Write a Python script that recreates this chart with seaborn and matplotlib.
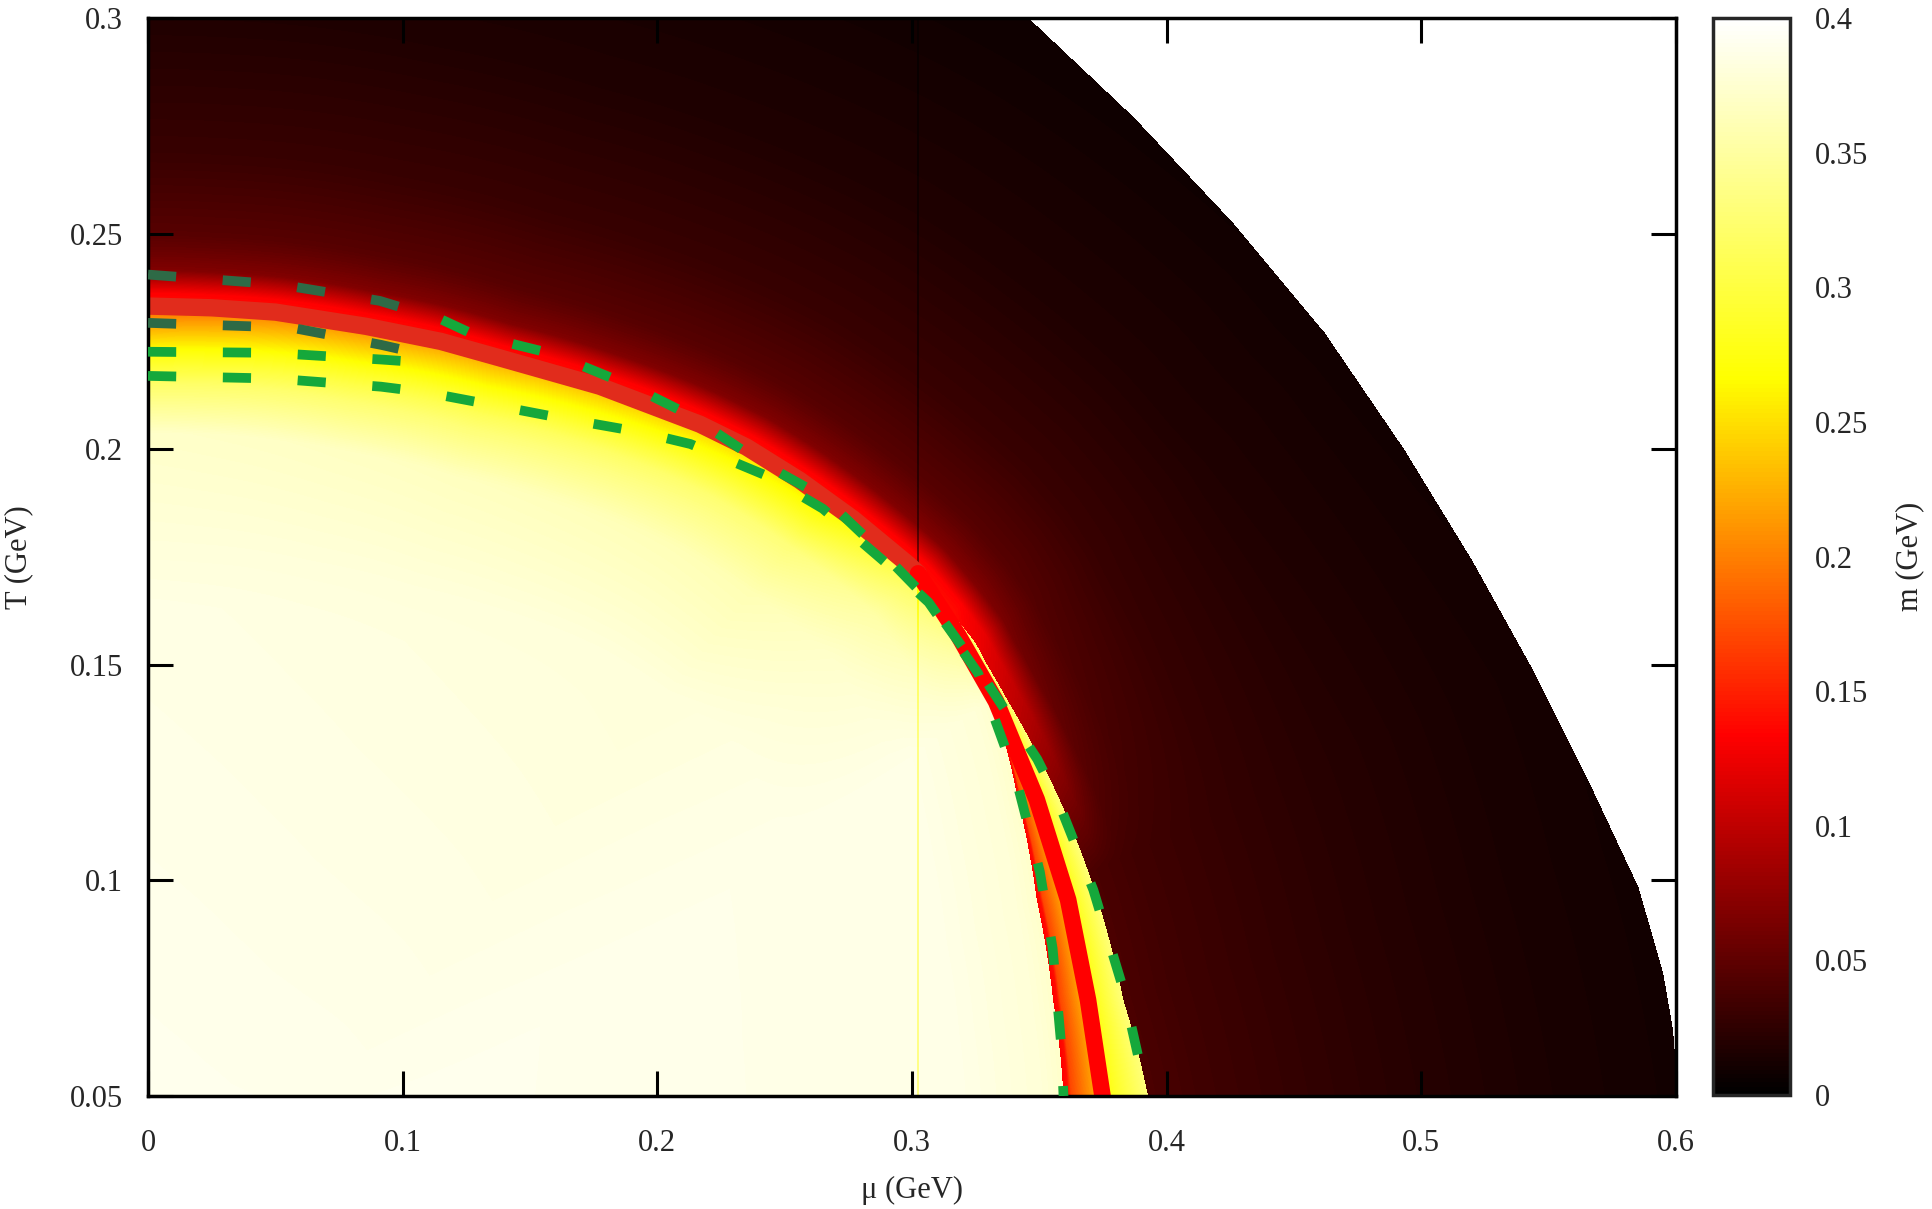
import numpy as np
import matplotlib
matplotlib.use("Agg")
import matplotlib.pyplot as plt
import seaborn as sns
from matplotlib.colors import LinearSegmentedColormap

# ---- values (mu and T in GeV) ----

# crossover line (centre of the thick red band)
cross_mu = [0.0, 0.025, 0.05, 0.0856, 0.115, 0.138, 0.1774, 0.2167, 0.235, 0.2559, 0.277, 0.2985, 0.3024]
cross_T = [0.2332, 0.2328, 0.2318, 0.2285, 0.2250, 0.2212, 0.2146, 0.2058, 0.2005, 0.1928, 0.1838, 0.1733, 0.1712]

# first-order line
first_mu = [0.3024, 0.318, 0.333, 0.349, 0.3613, 0.3691, 0.3748]
first_T = [0.1712, 0.157, 0.1415, 0.1187, 0.0955, 0.0723, 0.05]

# edges of the metastable band below the end point
inner_mu = [0.329, 0.3318, 0.3416, 0.349, 0.3554, 0.3595]
inner_T = [0.147, 0.1418, 0.1187, 0.0955, 0.0723, 0.05]
outer_mu = [0.325, 0.3295, 0.3375, 0.358, 0.373, 0.3830, 0.3927]
outer_T = [0.155, 0.150, 0.1418, 0.1187, 0.0955, 0.0723, 0.05]

# edge of the computed region (white beyond it)
edge_T = [0.05, 0.0654, 0.0783, 0.0983, 0.1227, 0.1484, 0.1741, 0.1999, 0.2271, 0.2528, 0.2771, 0.3]
edge_mu = [0.601, 0.599, 0.5952, 0.5855, 0.5661, 0.5444, 0.5202, 0.4935, 0.4621, 0.4258, 0.3871, 0.346]

# thin seam in the computed map
seam_mu = 0.3024

# m (GeV) across the transition vs distance from it (px)
in_d_top = [0, 9, 44, 77, 127, 300, 1000]
in_m_top = [0.133, 0.20, 0.267, 0.319, 0.371, 0.385, 0.392]
in_d_mid = [0, 9, 30, 60, 120, 250, 1000]
in_m_mid = [0.20, 0.262, 0.29, 0.33, 0.36, 0.38, 0.392]
in_d_low = [0, 20, 100, 1000]
in_m_low = [0.372, 0.378, 0.386, 0.392]
out_d_top = [0, 13, 36, 56, 72, 150, 290, 500, 900]
out_m_top = [0.14, 0.133, 0.068, 0.055, 0.046, 0.03, 0.017, 0.008, 0.003]
out_d_low = [0, 50, 150, 250, 400, 600]
out_m_low = [0.04, 0.034, 0.027, 0.021, 0.014, 0.008]
meta_u = [0, 0.12, 0.2, 1]
meta_m = [0.133, 0.14, 0.17, 0.235]
yellow_u = [0, 1]
yellow_m = [0.267, 0.33]

# green dashed curves
d1_mu = [0.0, 0.0405, 0.058, 0.091, 0.1155]
d1_T = [0.2405, 0.2387, 0.2376, 0.2344, 0.2300]
d2_mu = [0.0, 0.0405, 0.058, 0.0915, 0.1155]
d2_T = [0.2293, 0.2285, 0.2280, 0.2242, 0.2210]
b3_mu = [0.0, 0.0405, 0.058, 0.0915, 0.1155]
b3_T = [0.2226, 0.2224, 0.2220, 0.2208, 0.2198]
b4_mu = [0.0, 0.041, 0.058, 0.0915, 0.109, 0.143, 0.1615, 0.194, 0.213, 0.2435,
         0.265, 0.29, 0.3065, 0.326, 0.3405, 0.3502, 0.3552, 0.3587, 0.3595]
b4_T = [0.2170, 0.2165, 0.2160, 0.2145, 0.2132, 0.2094, 0.2073, 0.2039, 0.2012, 0.1937,
        0.1862, 0.1735, 0.1645, 0.1480, 0.1244, 0.1020, 0.0843, 0.0611, 0.0500]
b1_mu = [0.1155, 0.1275, 0.159, 0.190, 0.2128, 0.24, 0.265, 0.29, 0.3065, 0.326,
         0.3492, 0.357, 0.3712, 0.3826, 0.3908, 0.3925]
b1_T = [0.2300, 0.2267, 0.2221, 0.2146, 0.2079, 0.1972, 0.1890, 0.1750, 0.1650, 0.1490,
        0.1281, 0.1189, 0.0978, 0.0755, 0.0540, 0.0500]

x_ticks = [0, 0.1, 0.2, 0.3, 0.4, 0.5, 0.6]
x_labels = ["0", "0.1", "0.2", "0.3", "0.4", "0.5", "0.6"]
y_ticks = [0.05, 0.1, 0.15, 0.2, 0.25, 0.3]
y_labels = ["0.05", "0.1", "0.15", "0.2", "0.25", "0.3"]
c_ticks = [0, 0.05, 0.1, 0.15, 0.2, 0.25, 0.3, 0.35, 0.4]
c_labels = ["0", "0.05", "0.1", "0.15", "0.2", "0.25", "0.3", "0.35", "0.4"]

# ---- build the m(mu, T) map ----
NX, NY = 1528, 1078          # plot area in pixels
PX_MU, PX_T = NX / 0.6, NY / 0.25


def polar(mu, T):
    px = np.asarray(mu, float) * PX_MU
    py = np.asarray(T, float) * PX_T
    return np.degrees(np.arctan2(py, px)), np.hypot(px, py)


def radius_on(c_mu, c_T, theta):
    th, r = polar(c_mu, c_T)
    k = np.argsort(th)
    return np.interp(theta, th[k], r[k])


def blend(a, b, w):
    return a + (b - a) * np.clip(w, 0, 1)


red_mu = cross_mu + first_mu[1:]
red_T = cross_T + first_T[1:]
in_mu = [m for m, t in zip(red_mu, red_T) if t > 0.155] + inner_mu
in_T = [t for t in red_T if t > 0.155] + inner_T
out_mu = [m for m, t in zip(red_mu, red_T) if t > 0.16] + outer_mu
out_T = [t for t in red_T if t > 0.16] + outer_T

mu_grid = np.linspace(0, 0.6, NX)
T_grid = np.linspace(0.05, 0.3, NY)
MU, TT = np.meshgrid(mu_grid, T_grid)
TH, R = polar(MU, TT)

r_red = radius_on(red_mu, red_T, TH)
r_in = np.minimum(radius_on(in_mu, in_T, TH), r_red)
r_out = np.maximum(radius_on(out_mu, out_T, TH), r_red)

d_in = np.clip(r_in - R, 0, None)
m_top = np.interp(d_in, in_d_top, in_m_top)
m_mid = np.interp(d_in, in_d_mid, in_m_mid)
m_low = np.interp(d_in, in_d_low, in_m_low)
m_inside = np.where(TH >= 50, blend(m_mid, m_top, (TH - 50) / 40),
                    blend(m_low, m_mid, (TH - 36) / 14))

d_out = np.clip(R - r_out, 0, None)
m_outside = blend(np.interp(d_out, out_d_low, out_m_low),
                  np.interp(d_out, out_d_top, out_m_top), (TH - 25) / 16)

u_meta = (R - r_in) / np.maximum(r_red - r_in, 1e-9)
u_yel = (R - r_red) / np.maximum(r_out - r_red, 1e-9)

m = np.where(R < r_in, m_inside,
             np.where(R < r_red, np.interp(u_meta, meta_u, meta_m),
                      np.where(R < r_out, np.interp(u_yel, yellow_u, yellow_m), m_outside)))

# the one-pixel seam where two runs of the scan were joined
seam = np.abs(MU - seam_mu) < 0.6 / NX
m = np.where(seam & (m > 0.3), m - 0.05, np.where(seam & (m < 0.14), m * 0.5, m))
m = np.ma.masked_where(MU > np.interp(TT, edge_T, edge_mu), m)

# gnuplot "hot" palette (rgbformulae 21,22,23)
hot = LinearSegmentedColormap("gp_hot", {
    "red": [(0, 0, 0), (1 / 3, 1, 1), (1, 1, 1)],
    "green": [(0, 0, 0), (1 / 3, 0, 0), (2 / 3, 1, 1), (1, 1, 1)],
    "blue": [(0, 0, 0), (2 / 3, 0, 0), (1, 1, 1)],
})
hot.set_bad("white")

# ---- figure ----
sns.set_style("ticks")
plt.rcParams["font.family"] = ["Liberation Serif", "DejaVu Serif"]
FS = 22

W, H = 1932, 1209
fig = plt.figure(figsize=(W / 100, H / 100), dpi=100)
ax = fig.add_axes([148 / W, 113 / H, 1528 / W, 1078 / H])
cax = fig.add_axes([1713 / W, 114 / H, 77 / W, 1077 / H])

im = ax.imshow(m, extent=[0, 0.6, 0.05, 0.3], origin="lower", aspect="auto",
               cmap=hot, vmin=0, vmax=0.4, interpolation="nearest", zorder=0)

sns.lineplot(x=cross_mu, y=cross_T, sort=False, estimator=None, color="#e12c1c",
             linewidth=12.5, ax=ax, zorder=2)
sns.lineplot(x=first_mu, y=first_T, sort=False, estimator=None, color="#ff0000",
             linewidth=12, ax=ax, zorder=2)

dash = (0, (2.9, 4.8))
for xs, ys, col in [(d1_mu, d1_T, "#2e6a46"), (d2_mu, d2_T, "#2e6a46"),
                    (b3_mu, b3_T, "#15a83b"), (b4_mu, b4_T, "#15a83b"),
                    (b1_mu, b1_T, "#15a83b")]:
    sns.lineplot(x=xs, y=ys, sort=False, estimator=None, color=col, linewidth=7,
                 linestyle=dash, ax=ax, zorder=3)

ax.set_xlim(0, 0.6)
ax.set_ylim(0.05, 0.3)
ax.set_xticks(x_ticks)
ax.set_xticklabels(x_labels)
ax.set_yticks(y_ticks)
ax.set_yticklabels(y_labels)
ax.tick_params(direction="in", length=18, width=2.2, top=True, right=True,
               labelsize=FS, color="black")
ax.tick_params(axis="x", pad=24)
ax.tick_params(axis="y", pad=18)
for s in ax.spines.values():
    s.set_linewidth(2.5)
    s.set_color("black")
ax.set_xlabel("μ (GeV)", fontsize=FS)
ax.set_ylabel("T (GeV)", fontsize=FS)
ax.xaxis.set_label_coords(0.5, -0.074)
ax.yaxis.set_label_coords(-0.075, 0.5)

cb = fig.colorbar(im, cax=cax)
cb.set_ticks(c_ticks)
cb.set_ticklabels(c_labels)
cb.outline.set_linewidth(2.5)
cax.tick_params(direction="in", length=13, width=2, left=True, right=True,
                labelsize=FS, pad=18)
cb.set_label("m (GeV)", fontsize=FS)
cax.yaxis.set_label_coords(2.36, 0.5)

fig.savefig("out.png", dpi=100)
